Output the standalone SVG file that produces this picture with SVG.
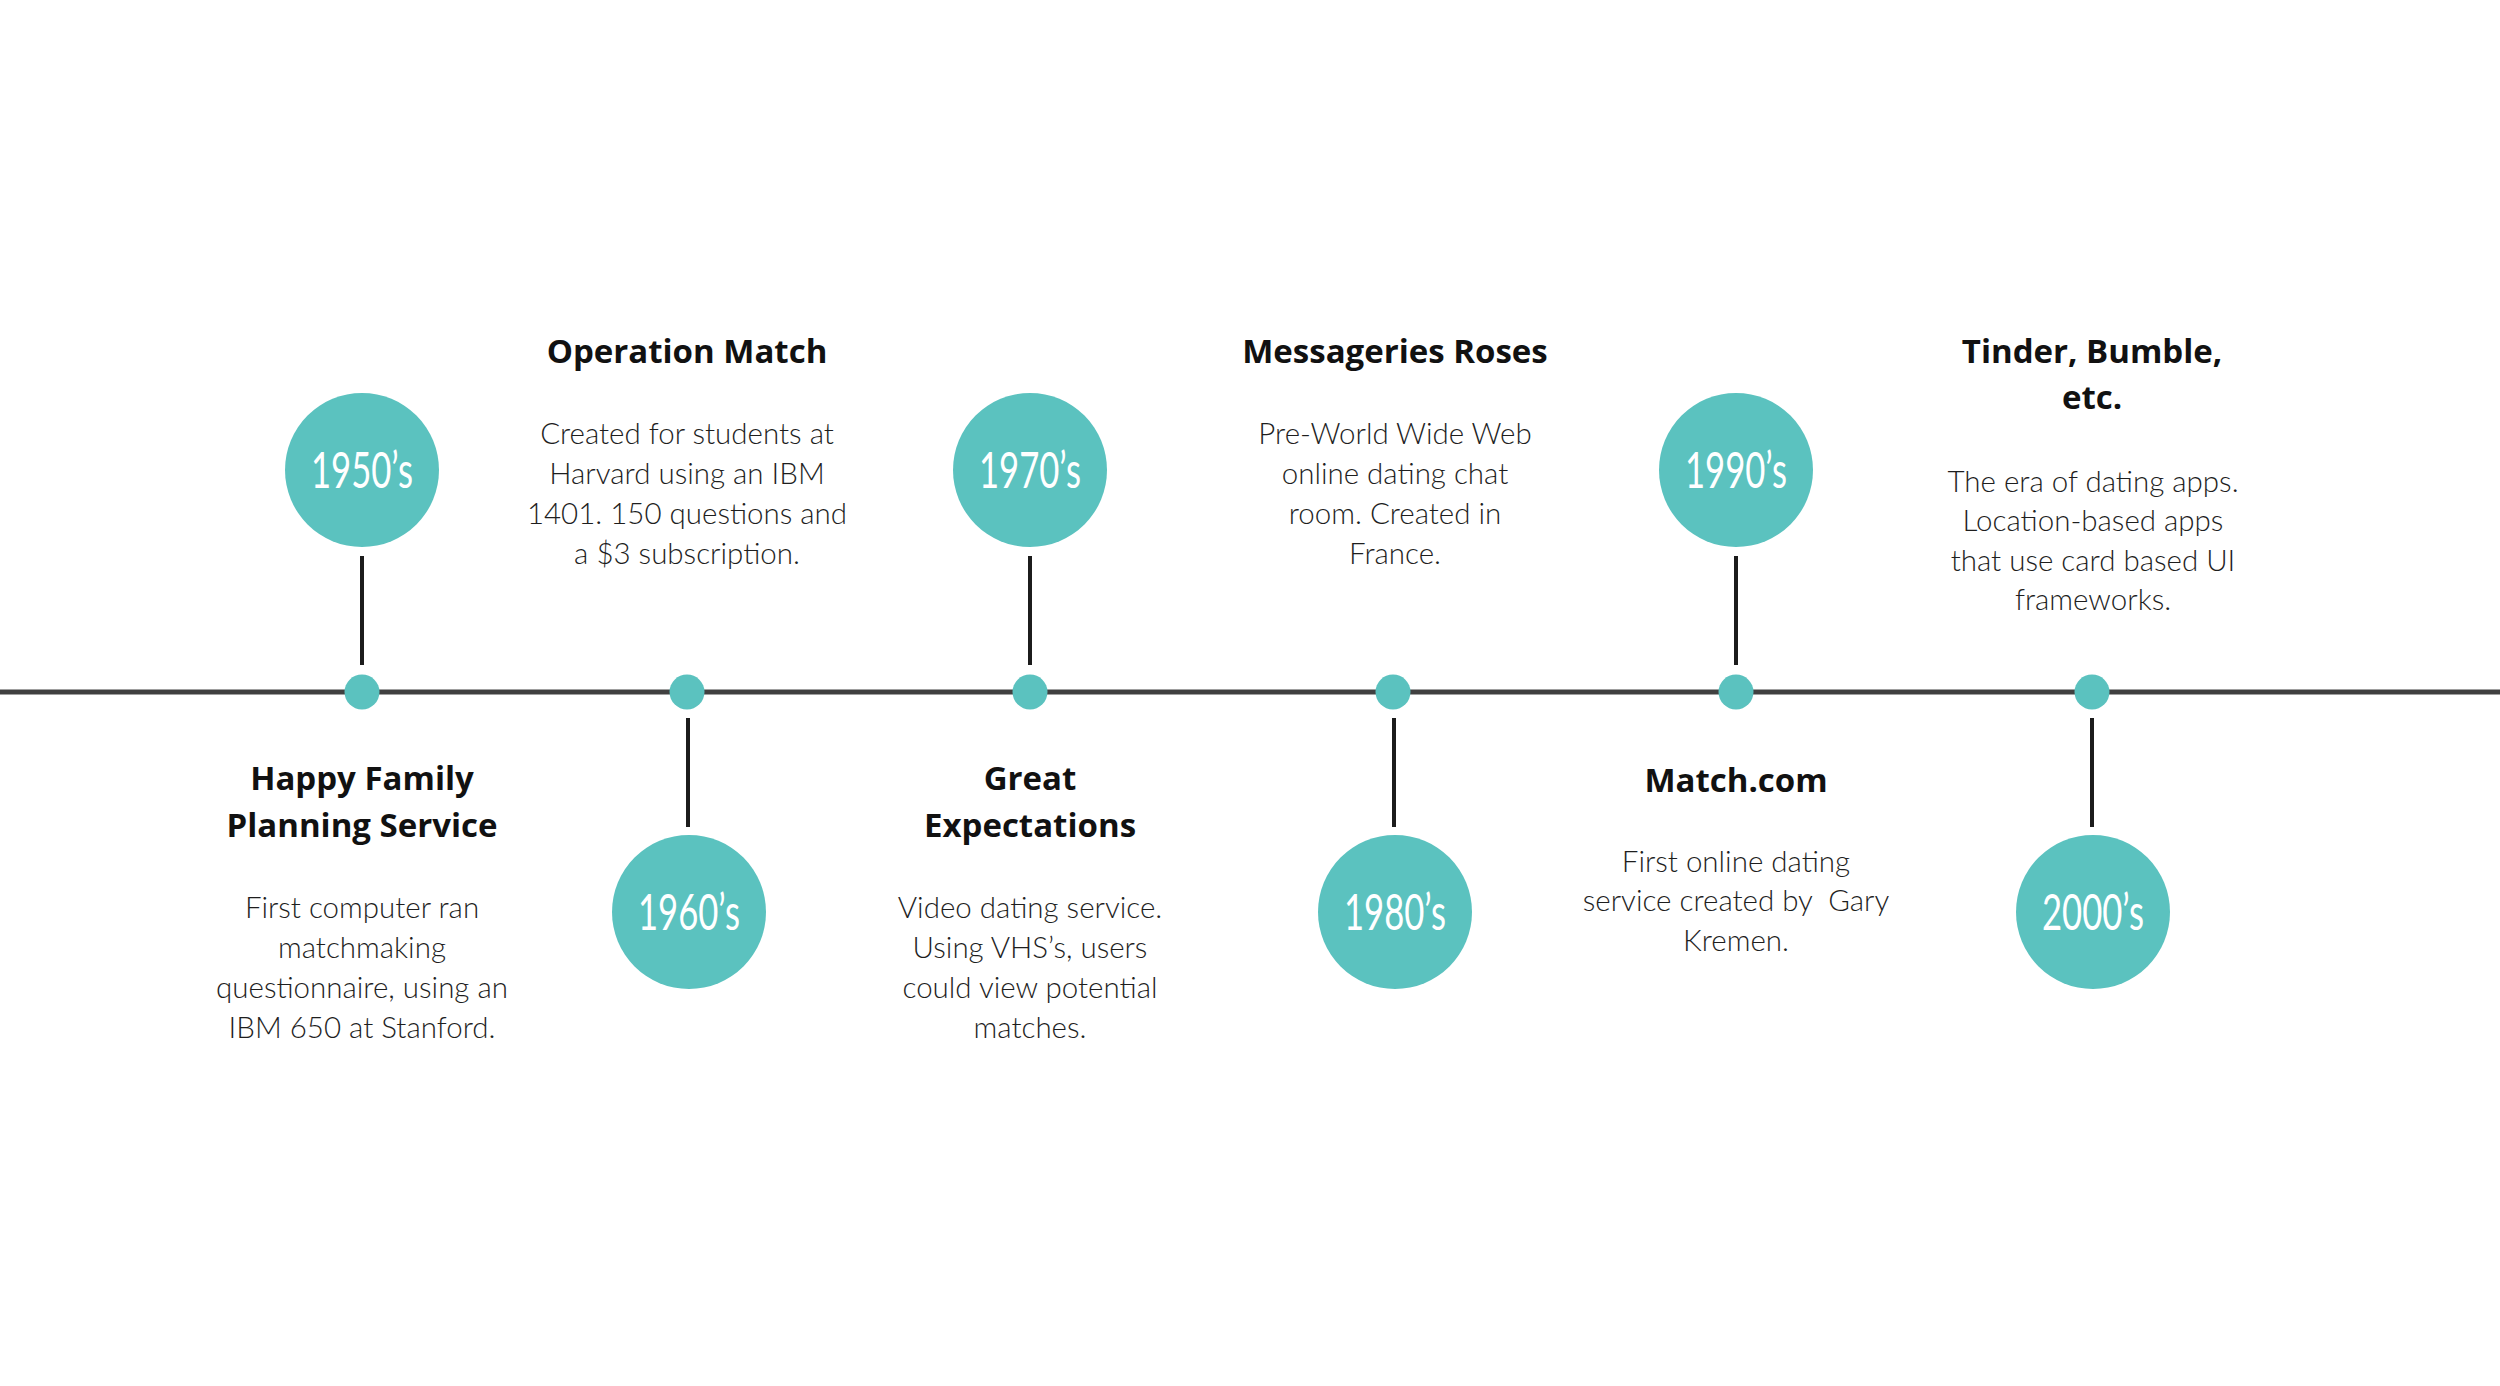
<svg xmlns="http://www.w3.org/2000/svg" width="2500" height="1386" viewBox="0 0 2500 1386">
<style>
.bg{fill:#ffffff}
.axis{stroke:#404040;stroke-width:5;fill:none}
.stem{stroke:#1c1c1c;stroke-width:4;fill:none}
.dot{fill:#5bc2bf}
.bubble{fill:#5bc2bf}
.year{font-family:Lato,"Open Sans","Liberation Sans",sans-serif;font-weight:400;font-size:51px;fill:#ffffff;text-anchor:middle}
.title{font-family:"Open Sans",Lato,"Liberation Sans",sans-serif;font-weight:700;font-size:33px;fill:#111111;text-anchor:middle}
.body{font-family:Lato,"Open Sans","Liberation Sans",sans-serif;font-weight:300;font-size:29.5px;fill:#1e1e1e;text-anchor:middle;white-space:pre}
</style>
<rect class="bg" x="0" y="0" width="2500" height="1386"/>
<g id="connectors">
<line class="axis" x1="0" y1="692" x2="2500" y2="692"/>
<line class="stem" x1="362" y1="556" x2="362" y2="665"/>
<line class="stem" x1="688" y1="718" x2="688" y2="827"/>
<line class="stem" x1="1030" y1="556" x2="1030" y2="665"/>
<line class="stem" x1="1394" y1="718" x2="1394" y2="827"/>
<line class="stem" x1="1736" y1="556" x2="1736" y2="665"/>
<line class="stem" x1="2092" y1="718" x2="2092" y2="827"/>
</g>
<g id="node-1950s">
<circle class="dot" cx="362" cy="692" r="17.5"/>
<circle class="bubble" cx="362" cy="470" r="77"/>
<text class="year" x="362" y="488" textLength="102" lengthAdjust="spacingAndGlyphs">1950’s</text>
<text class="title" x="362" y="790">Happy Family</text>
<text class="title" x="362" y="837">Planning Service</text>
<text class="body" x="362" y="918">First computer ran</text>
<text class="body" x="362" y="958">matchmaking</text>
<text class="body" x="362" y="998">questionnaire, using an</text>
<text class="body" x="362" y="1038">IBM 650 at Stanford.</text>
</g>
<g id="node-1960s">
<circle class="dot" cx="687" cy="692" r="17.5"/>
<circle class="bubble" cx="689" cy="912" r="77"/>
<text class="year" x="689" y="930" textLength="102" lengthAdjust="spacingAndGlyphs">1960’s</text>
<text class="title" x="687" y="363">Operation Match</text>
<text class="body" x="687" y="444">Created for students at</text>
<text class="body" x="687" y="484">Harvard using an IBM</text>
<text class="body" x="687" y="524">1401. 150 questions and</text>
<text class="body" x="687" y="564">a $3 subscription.</text>
</g>
<g id="node-1970s">
<circle class="dot" cx="1030" cy="692" r="17.5"/>
<circle class="bubble" cx="1030" cy="470" r="77"/>
<text class="year" x="1030" y="488" textLength="102" lengthAdjust="spacingAndGlyphs">1970’s</text>
<text class="title" x="1030" y="790">Great</text>
<text class="title" x="1030" y="837">Expectations</text>
<text class="body" x="1030" y="918">Video dating service.</text>
<text class="body" x="1030" y="958">Using VHS’s, users</text>
<text class="body" x="1030" y="998">could view potential</text>
<text class="body" x="1030" y="1038">matches.</text>
</g>
<g id="node-1980s">
<circle class="dot" cx="1393" cy="692" r="17.5"/>
<circle class="bubble" cx="1395" cy="912" r="77"/>
<text class="year" x="1395" y="930" textLength="102" lengthAdjust="spacingAndGlyphs">1980’s</text>
<text class="title" x="1395" y="363">Messageries Roses</text>
<text class="body" x="1395" y="444">Pre-World Wide Web</text>
<text class="body" x="1395" y="484">online dating chat</text>
<text class="body" x="1395" y="524">room. Created in</text>
<text class="body" x="1395" y="564">France.</text>
</g>
<g id="node-1990s">
<circle class="dot" cx="1736" cy="692" r="17.5"/>
<circle class="bubble" cx="1736" cy="470" r="77"/>
<text class="year" x="1736" y="488" textLength="102" lengthAdjust="spacingAndGlyphs">1990’s</text>
<text class="title" x="1736" y="792">Match.com</text>
<text class="body" x="1736" y="872">First online dating</text>
<text class="body" x="1736" y="911" xml:space="preserve">service created by  Gary</text>
<text class="body" x="1736" y="951">Kremen.</text>
</g>
<g id="node-2000s">
<circle class="dot" cx="2092" cy="692" r="17.5"/>
<circle class="bubble" cx="2093" cy="912" r="77"/>
<text class="year" x="2093" y="930" textLength="102" lengthAdjust="spacingAndGlyphs">2000’s</text>
<text class="title" x="2092" y="363">Tinder, Bumble,</text>
<text class="title" x="2092" y="409">etc.</text>
<text class="body" x="2093" y="492">The era of dating apps.</text>
<text class="body" x="2093" y="531">Location-based apps</text>
<text class="body" x="2093" y="571">that use card based UI</text>
<text class="body" x="2093" y="610">frameworks.</text>
</g>
</svg>
